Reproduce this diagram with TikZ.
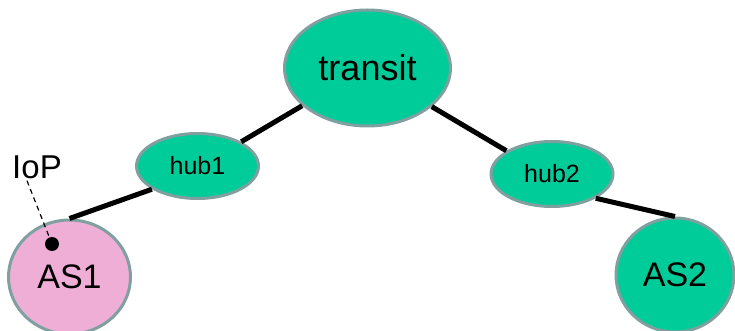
\documentclass[tikz,border=0pt]{standalone}
\usepackage{fontspec}
\setmainfont{Liberation Sans}
\usetikzlibrary{shapes.geometric}
\definecolor{nodegreen}{RGB}{0,204,153}
\definecolor{nodepink}{RGB}{238,174,214}
\definecolor{rimgrey}{RGB}{128,160,160}
\begin{document}
\begin{tikzpicture}[x=1pt,y=-1pt,
    as/.style={ellipse,draw=rimgrey,line width=3pt,inner sep=0pt},
    link/.style={line width=5pt}]
    \useasboundingbox (0,0) rectangle (735,331);
    \node[as,fill=nodegreen,minimum width=166pt,minimum height=116pt,font=\fontsize{36}{40}\selectfont] (transit) at (367.5,68) {transit};
    \node[as,fill=nodegreen,minimum width=122pt,minimum height=65pt,font=\fontsize{25}{28}\selectfont] (hub1) at (197.5,166) {hub1};
    \node[as,fill=nodegreen,minimum width=122pt,minimum height=65pt,font=\fontsize{25}{28}\selectfont] (hub2) at (552,174) {hub2};
    \node[as,fill=nodepink,minimum width=122pt,minimum height=114pt,font=\fontsize{34}{38}\selectfont] (as1) at (69.5,277) {AS1};
    \node[as,fill=nodegreen,minimum width=118pt,minimum height=114pt,font=\fontsize{34}{38}\selectfont] (as2) at (675,275) {AS2};
    \draw[link] (transit.210) -- (hub1.29);
    \draw[link] (transit.-31) -- (hub2.153);
    \draw[link] (hub1.207) -- (as1.north);
    \draw[link] (hub2.-29) -- (as2.north);
    \node[font=\fontsize{33}{36}\selectfont,inner sep=2pt] (iop) at (37,167) {IoP};
    \node[circle,fill=black,minimum size=14pt,inner sep=0pt] (ioppt) at (52,244) {};
    \draw[dashed,line width=1.2pt,dash pattern=on 5pt off 4pt] ([xshift=-10pt]iop.south) -- (ioppt);
\end{tikzpicture}
\end{document}
